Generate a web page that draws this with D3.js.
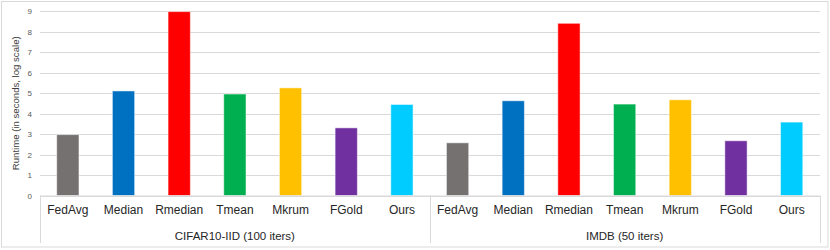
<!DOCTYPE html>
<html lang="en">
<head>
  <meta charset="UTF-8">
  <title>Runtime</title>
  <script src="https://d3js.org/d3.v7.min.js"></script>
  <style>
    body { margin: 0; background: #fff; }
    svg { display: block; font-family: "Liberation Sans", Arial, sans-serif; }
    .grid line { stroke: #d9d9d9; stroke-width: 1; }
    .grid .domain { display: none; }
    .ytick text { fill: #595959; font-size: 8px; }
    .xcat text { fill: #262626; font-size: 12px; }
  </style>
</head>
<body>
  <div id="chart"></div>
  <script>
    // data
    const groups = ["CIFAR10-IID (100 iters)", "IMDB (50 iters)"];
    const methods = ["FedAvg", "Median", "Rmedian", "Tmean", "Mkrum", "FGold", "Ours"];
    const cifarValues = [2.97, 5.1, 8.97, 4.95, 5.25, 3.3, 4.44];
    const imdbValues = [2.57, 4.62, 8.4, 4.46, 4.67, 2.67, 3.58];
    const yTicks = [0, 1, 2, 3, 4, 5, 6, 7, 8, 9];
    const colors = ["#767171", "#0070c0", "#ff0000", "#00b050", "#ffc000", "#7030a0", "#00ccff"];

    const seriesByGroup = [cifarValues, imdbValues];

    const W = 830, H = 250;
    const plotLeft = 40, plotRight = 819.5, plotTop = 11, plotBottom = 195.5;

    const svg = d3.select("#chart").append("svg")
      .attr("width", W)
      .attr("height", H);

    // outer border
    svg.append("rect")
      .attr("x", 1.5).attr("y", 1.5)
      .attr("width", 826.5).attr("height", 245.5)
      .attr("fill", "none")
      .attr("stroke", "#d9d9d9");

    const y = d3.scaleLinear().domain([0, 9]).range([plotBottom, plotTop]);
    const xGroup = d3.scaleBand().domain(groups).range([plotLeft, plotRight]);
    const xInner = d3.scaleBand().domain(methods)
      .range([0, xGroup.bandwidth()])
      .paddingInner(0.6).paddingOuter(0.3);

    // gridlines
    svg.append("g")
      .attr("class", "grid")
      .attr("transform", `translate(${plotLeft},0)`)
      .call(d3.axisLeft(y).tickValues(yTicks).tickSize(-(plotRight - plotLeft)).tickFormat(""))
      .selectAll("line").attr("shape-rendering", "crispEdges");

    // y tick labels
    svg.append("g")
      .attr("class", "ytick")
      .attr("transform", `translate(${plotLeft - 8},0)`)
      .call(d3.axisLeft(y).tickValues(yTicks).tickSize(0).tickPadding(0))
      .call(g => g.select(".domain").remove());

    // y title
    svg.append("text")
      .attr("transform", `translate(18.5,${(plotTop + plotBottom) / 2}) rotate(-90)`)
      .attr("text-anchor", "middle")
      .attr("font-size", 9.6)
      .attr("fill", "#404040")
      .text("Runtime (in seconds, log scale)");

    // bars
    groups.forEach((grp, gi) => {
      const g = svg.append("g").attr("transform", `translate(${xGroup(grp)},0)`);
      g.selectAll("rect")
        .data(methods.map((m, i) => ({ m, v: seriesByGroup[gi][i], c: colors[i] })))
        .join("rect")
        .attr("x", d => xInner(d.m))
        .attr("y", d => y(d.v))
        .attr("width", xInner.bandwidth())
        .attr("height", d => y(0) - y(d.v))
        .attr("fill", d => d.c)
        .attr("stroke", "#ffffff")
        .attr("stroke-opacity", 0.5)
        .attr("stroke-width", 1);

      // category labels
      g.append("g")
        .attr("class", "xcat")
        .attr("transform", `translate(0,${plotBottom + 10})`)
        .call(d3.axisBottom(xInner).tickSize(0).tickPadding(0))
        .call(a => a.select(".domain").remove())
        .selectAll("text").attr("dy", "0.71em");

      // group label
      g.append("text")
        .attr("x", xGroup.bandwidth() / 2)
        .attr("y", 240)
        .attr("text-anchor", "middle")
        .attr("font-size", 11.5)
        .attr("fill", "#262626")
        .text(grp);
    });

    // category axis lines
    svg.append("line")
      .attr("x1", plotLeft).attr("x2", plotRight)
      .attr("y1", plotBottom + 0.5).attr("y2", plotBottom + 0.5)
      .attr("stroke", "#d9d9d9");
    [plotLeft, xGroup(groups[1]), plotRight].forEach(xv => {
      svg.append("line")
        .attr("x1", Math.round(xv) + 0.5).attr("x2", Math.round(xv) + 0.5)
        .attr("y1", plotBottom).attr("y2", 243)
        .attr("stroke", "#d9d9d9");
    });
  </script>
</body>
</html>
